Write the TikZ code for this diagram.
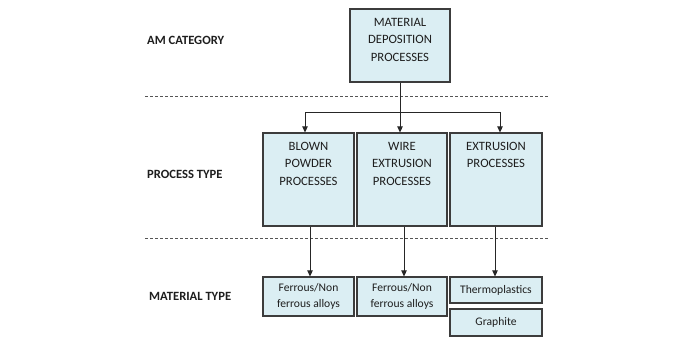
\documentclass[tikz,border=0pt]{standalone}
\usepackage{fontspec}
\setmainfont{Carlito}
\usetikzlibrary{arrows.meta,positioning}
\definecolor{boxfill}{HTML}{DBEEF3}
\definecolor{boxline}{HTML}{3C3C3C}
\definecolor{inktext}{HTML}{1E1E1E}
\definecolor{sepgray}{HTML}{555555}
\tikzset{
  >={Triangle[length=6pt,width=5.5pt]},
  % kategorien links
  cat/.style={anchor=west,inner sep=0pt,text=inktext,
              font=\fontsize{12.6}{14}\selectfont\bfseries},
  % kaesten
  bigbox/.style={draw=boxline,fill=boxfill,line width=1.2pt,inner sep=0pt},
  bigtxt/.style={inner sep=0pt,align=center,text=inktext,
                 font=\fontsize{12.7}{17.5}\selectfont},
  smallbox/.style={draw=boxline,fill=boxfill,line width=1.2pt,inner sep=0pt,
                   minimum width=91pt,align=center,text=inktext,
                   font=\fontsize{11.6}{16}\selectfont},
  link/.style={->,draw=black!85,line width=0.9pt},
  sep/.style={draw=sepgray,line width=0.9pt,dash pattern=on 3pt off 2pt},
}
\begin{document}
\begin{tikzpicture}[x=1pt,y=-1pt]
\useasboundingbox[fill=white] (0,0) rectangle (692,343);
  % trennlinien
  \coordinate (s1a) at (145,96);
  \coordinate (s1b) at (548,96);
  \coordinate (s2a) at (145,238);
  \coordinate (s2b) at (548,238);
  \draw[sep] (s1a) -- (s1b);
  \draw[sep] (s2a) -- (s2b);
  % kategorien
  \node[cat] (amcat) at (147,40) {AM CATEGORY};
  \node[cat] (proctype) at (147,174) {PROCESS TYPE};
  \node[cat] (mattype) at (149,296) {MATERIAL TYPE};
  % oben
  \node[bigbox,minimum width=100pt,minimum height=73pt] (mdp) at (400,45.5) {};
  \node[bigtxt,below=9.5pt of mdp.north] (mdptxt) {MATERIAL\\DEPOSITION\\PROCESSES};
  % prozesse
  \node[bigbox,minimum width=91pt,minimum height=93pt] (blown) at (308.5,179.5) {};
  \node[bigtxt,below=9.5pt of blown.north] (blowntxt) {BLOWN\\POWDER\\PROCESSES};
  \node[bigbox,minimum width=90pt,minimum height=93pt] (wire) at (402,179.5) {};
  \node[bigtxt,below=9.5pt of wire.north] (wiretxt) {WIRE\\EXTRUSION\\PROCESSES};
  \node[bigbox,minimum width=92pt,minimum height=93pt] (extr) at (496,179.5) {};
  \node[bigtxt,below=9.5pt of extr.north] (extrtxt) {EXTRUSION\\PROCESSES};
  % materialien
  \node[smallbox,minimum height=39pt] (ferr1) at (308.5,296.5) {Ferrous/Non\\ferrous alloys};
  \node[smallbox,minimum height=39pt,minimum width=90pt] (ferr2) at (402,296.5) {Ferrous/Non\\ferrous alloys};
  \node[smallbox,minimum height=26pt,minimum width=92pt] (thermo) at (496,290) {Thermoplastics};
  \node[smallbox,minimum height=27pt,minimum width=92pt] (graph) at (496,322.5) {Graphite};
  % pfeile
  \coordinate (split) at (400,112);
  \draw[line width=0.9pt,draw=black!85] (mdp.south) -- (split);
  \draw[link] (split) -| ([xshift=-3.5pt]blown.north);
  \draw[link] (split) -- (split |- wire.north);
  \draw[link] (split) -| ([xshift=4pt]extr.north);
  \draw[link] ([xshift=1.5pt]blown.south) -- ([xshift=1.5pt]ferr1.north);
  \draw[link] ([xshift=2pt]wire.south) -- ([xshift=2pt]ferr2.north);
  \draw[link] ([xshift=-1pt]extr.south) -- ([xshift=-1pt]thermo.north);
\end{tikzpicture}
\end{document}
